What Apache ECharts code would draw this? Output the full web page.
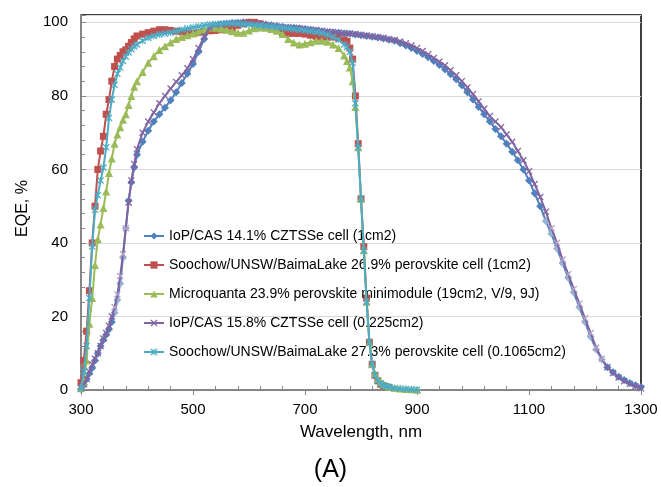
<!DOCTYPE html>
<html>
<head>
<meta charset="utf-8">
<title>EQE</title>
<script src="https://cdn.jsdelivr.net/npm/echarts@6/dist/echarts.min.js"></script>
<style>
  html, body { margin: 0; padding: 0; background: #fff; }
  #main { width: 661px; height: 487px; }
</style>
</head>
<body>
<div id="main"></div>
<script>
// wavelength grids (nm)
const wlShort = [300,305,310,315,320,325,330,335,340,345,350,355,360,365,370,375,380,385,390,395,400,
  410,420,430,440,450,460,470,480,490,500,510,520,530,540,550,560,570,580,590,600,
  610,620,630,640,650,660,670,680,690,700,710,720,730,740,750,760,770,
  775,780,785,790,795,800,805,810,815,820,825,830,835,840,845,850,
  860,870,880,890,900];
const wlLong = [300,305,310,315,320,325,330,335,340,345,350,355,360,365,370,375,380,385,390,395,400,
  410,420,430,440,450,460,470,480,490,500,510,520,530,540,550,560,570,580,590,600,
  610,620,630,640,650,660,670,680,690,700,710,720,730,740,750,760,770,780,790,800,
  810,820,830,840,850,860,870,880,890,900,910,920,930,940,950,960,970,980,990,1000,
  1010,1020,1030,1040,1050,1060,1070,1080,1090,1100,1110,1120,1130,1140,1150,1160,1170,1180,1190,1200,
  1210,1220,1230,1240,1250,1260,1270,1280,1290,1300];

// EQE, %
const eqeIopCas141 = [0.3,1.5,3,4.5,6,8,10,12,13.6,15,16.5,18.5,21,24.5,29,36,44,51.5,56.5,60.5,64,
  67.5,70.5,73,75,76.8,78.8,81,83.5,86,88.7,
  92,95.5,98,99.2,99.5,99.7,99.8,99.9,100,100,
  99.8,99.6,99.4,99.2,99,98.8,98.6,98.5,98.4,98.2,
  98,97.8,97.6,97.4,97.3,97.2,97,96.9,96.7,96.5,
  96.3,96.1,95.9,95.6,95.3,95,94.3,93.7,93,92.2,
  91.4,90.5,89.5,88.4,87.2,85.9,84.5,82.9,81,79,
  77,75,73,71,69,67,64.8,62.5,60,57,
  53.5,50,46,42.5,38.5,34.5,30.5,26.5,22.5,18.5,
  14.5,11,8.3,6.2,4.8,3.6,2.7,1.9,1.3,0.8];
const eqeSoochow269 = [2,8,16,27,40,50,60,65,69,75,79,84,88,90,91,92,92.5,93.5,94.5,95.5,96.3,
  96.8,97.2,97.6,98,98,97.8,97.6,97.4,97.2,97,
  97.2,97.5,97.7,97.8,98,98.2,98.6,99.2,99.6,100,
  100,99.6,99,98.4,97.8,97.2,97,97,97,96.8,
  96.5,96.2,96,96,96,95.7,95.2,
  94.8,93,90,80,67,52,39,25,13,7,4,2.5,1.6,1.2,0.9,0.7];
const eqeMicroquanta = [0.5,2,8,18,25,34,41,45,49.5,54,59,63,67,69.5,71.5,73.5,75,77.5,80,82.5,84,
  86.5,89,90.8,92.5,93.5,94.5,95.5,96,96.5,97,
  97.5,98,98.6,98.5,98.3,98,97.6,97.2,97.2,97.8,
  98.4,98.6,98.5,98.2,97.7,96.8,95.5,94.5,94,94.2,
  94.6,95,95,94.7,94,93,91,
  89.5,87.7,84,77,66,52,38,24,13,7,4.5,3,2.2,1.6,1.2,0.9,
  0.6,0.4,0.3,0.2,0.1];
const eqeIopCas158 = [0.5,1.5,3,5,7,8.5,10,12,14,15.5,17.5,20,22.5,26,31,37,44,51,57,61.5,65.5,
  70,73,75.5,78,80,82,83.8,85.6,87.5,90,
  93,96.2,98.5,99.3,99.5,99.6,99.8,99.9,99.9,99.8,
  99.6,99.5,99.3,99.1,98.9,98.7,98.6,98.5,98.4,98.2,
  98,97.9,97.7,97.5,97.4,97.2,97.1,97,96.8,96.6,
  96.4,96.2,96,95.8,95.5,95.2,94.8,94.3,93.7,93,
  92.2,91.3,90.3,89.3,88.3,87,85.6,84,82.3,80.5,
  78.5,76.5,74.5,73,71.5,69.5,67.5,65,62.5,59.5,
  56,52.5,48.5,44,40,35.5,31.5,27.5,23.5,19.5,
  15.5,11.5,8.5,6.2,4.6,3.4,2.4,1.6,1,0.5];
const eqeSoochow273 = [0.5,5,12,25,39,49,53,57,60.5,66,74,79,83,86,87.7,89.5,90.7,91.8,92.7,93.4,94,
  95,95.8,96.3,96.7,97,97.2,97.6,98,98.3,98.6,
  98.9,99.2,99.4,99.5,99.6,99.7,99.7,99.6,99.5,99.4,
  99.3,99.2,99,98.9,98.7,98.5,98.3,98.1,98,97.8,
  97.6,97.4,97.1,96.6,96,95.3,94,
  93.3,92,89,78,66,52,38,24,13,7,4,2.6,1.8,1.3,1,0.8,
  0.5,0.35,0.25,0.15,0.1];

const seriesNames = [
  'IoP/CAS 14.1% CZTSSe cell (1cm2)',
  'Soochow/UNSW/BaimaLake 26.9% perovskite cell (1cm2)',
  'Microquanta 23.9% perovskite minimodule (19cm2, V/9, 9J)',
  'IoP/CAS 15.8% CZTSSe cell (0.225cm2)',
  'Soochow/UNSW/BaimaLake 27.3% perovskite cell (0.1065cm2)'
];
const xLabels = [300, 500, 700, 900, 1100, 1300];

const colors = ['#4F81BD', '#C0504D', '#9BBB59', '#8064A2', '#4BACC6'];
const lightBlue = '#95B3D7';
const lightPurple = '#B3A2C7';

// x-shaped and asterisk markers
const xSymbol = 'path://M0,1.3L1.3,0L5,3.7L8.7,0L10,1.3L6.3,5L10,8.7L8.7,10L5,6.3L1.3,10L0,8.7L3.7,5Z';
const starSymbol = 'path://M0,1.3L1.3,0L5,3.7L8.7,0L10,1.3L6.3,5L10,8.7L8.7,10L5,6.3L1.3,10L0,8.7L3.7,5Z' +
  'M4.35,0L5.65,0L5.65,10L4.35,10Z';

function pairs(wl, vals) {
  return vals.map((v, i) => [wl[i], v]);
}

// minor ticks every 40 nm
const minorX = [];
for (let a = 300; a < 1300; a += 200) {
  for (let k = 1; k < 5; k++) minorX.push(a + k * 40);
}

const font = "'Liberation Sans', Arial, sans-serif";

function makeSeries(i, data, symbol, size) {
  return {
    name: seriesNames[i],
    type: 'line',
    data: data,
    symbol: symbol,
    symbolSize: size,
    showSymbol: true,
    z: 2 + i,
    itemStyle: { color: colors[i] },
    lineStyle: { color: colors[i], width: 2 },
    emphasis: { disabled: true }
  };
}

const chart = echarts.init(document.getElementById('main'));
chart.setOption({
  animation: false,
  backgroundColor: '#fff',
  textStyle: { fontFamily: font },
  title: {
    text: '(A)',
    left: 'center',
    top: 453,
    textStyle: { fontFamily: font, fontSize: 25, fontWeight: 'normal', color: '#000' }
  },
  grid: {
    left: 81, right: 20, top: 15, bottom: 97,
    show: true, borderColor: '#000', borderWidth: 1.5
  },
  legend: {
    orient: 'vertical',
    left: 143,
    top: 229,
    padding: 0,
    itemWidth: 20,
    itemHeight: 9,
    itemGap: 15,
    textStyle: { fontFamily: font, fontSize: 14, color: '#000' },
    data: seriesNames.map((n, i) => ({ name: n, itemStyle: { color: colors[i] }, lineStyle: { color: colors[i], width: 2 } }))
  },
  visualMap: [
    {
      type: 'piecewise', show: false, seriesIndex: 0, dimension: 0,
      pieces: [
        { lt: 357, color: colors[0] },
        { gte: 357, lt: 385, color: lightBlue },
        { gte: 385, lt: 1130, color: colors[0] },
        { gte: 1130, lt: 1235, color: lightBlue },
        { gte: 1235, color: colors[0] }
      ]
    },
    {
      type: 'piecewise', show: false, seriesIndex: 3, dimension: 0,
      pieces: [
        { lt: 357, color: colors[3] },
        { gte: 357, lt: 385, color: lightPurple },
        { gte: 385, lt: 1135, color: colors[3] },
        { gte: 1135, lt: 1235, color: lightPurple },
        { gte: 1235, color: colors[3] }
      ]
    }
  ],
  xAxis: [
    {
      type: 'value', min: 300, max: 1300, interval: 100,
      name: 'Wavelength, nm', nameLocation: 'middle', nameGap: 34,
      nameTextStyle: { fontFamily: font, fontSize: 17, color: '#000' },
      axisLine: { show: true, lineStyle: { color: '#868686', width: 2 } },
      axisTick: { show: true, customValues: xLabels, length: 5, lineStyle: { color: '#868686', width: 1 } },
      axisLabel: { customValues: xLabels, margin: 12, fontFamily: font, fontSize: 15, color: '#000', formatter: v => String(v) },
      splitLine: { show: false }
    },
    {
      type: 'value', min: 300, max: 1300, interval: 100, position: 'bottom',
      axisLine: { show: false },
      axisTick: { show: true, inside: true, customValues: minorX, length: 4, lineStyle: { color: '#868686', width: 1 } },
      axisLabel: { show: false },
      splitLine: { show: false }
    }
  ],
  yAxis: {
    type: 'value', min: 0, max: 102, interval: 20,
    name: 'EQE, %', nameLocation: 'middle', nameGap: 50,
    nameTextStyle: { fontFamily: font, fontSize: 16, color: '#000', padding: [0, 12, 0, 0] },
    axisLine: { show: true, lineStyle: { color: '#868686', width: 2 } },
    axisTick: { show: true, inside: true, length: 5, lineStyle: { color: '#868686' } },
    minorTick: { show: true, splitNumber: 5, length: 4, lineStyle: { color: '#868686' } },
    axisLabel: {
      margin: 13, fontFamily: font, fontSize: 15, color: '#000',
      formatter: v => (v % 20 === 0 ? String(v) : '')
    },
    splitLine: { show: true, lineStyle: { color: '#d9d9d9', width: 1 } }
  },
  series: [
    makeSeries(0, pairs(wlLong, eqeIopCas141), 'diamond', 8),
    makeSeries(1, pairs(wlShort, eqeSoochow269), 'rect', 7),
    makeSeries(2, pairs(wlShort, eqeMicroquanta), 'triangle', 8),
    makeSeries(3, pairs(wlLong, eqeIopCas158), xSymbol, 7),
    makeSeries(4, pairs(wlShort, eqeSoochow273), starSymbol, 7)
  ]
});
</script>
</body>
</html>
